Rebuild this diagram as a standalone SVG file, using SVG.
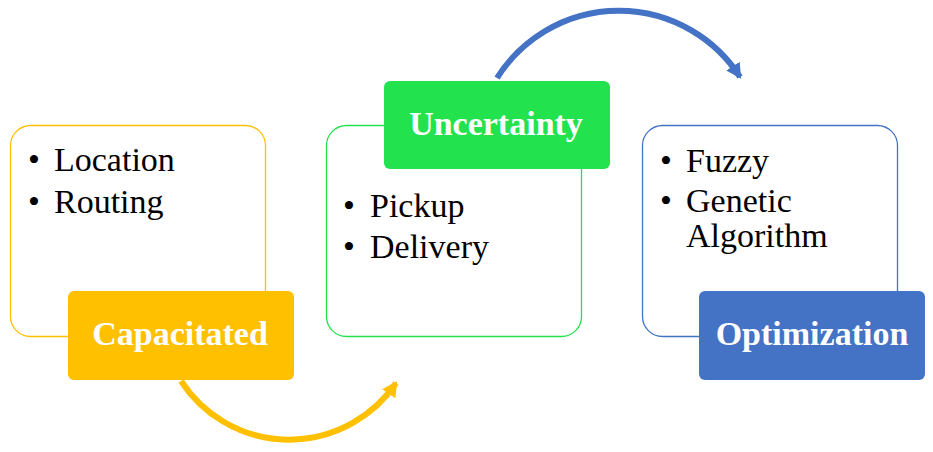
<svg xmlns="http://www.w3.org/2000/svg" width="933" height="452" viewBox="0 0 933 452">
<style>
.outline{fill:#fff;stroke-width:1.3}
.item{font-family:"Liberation Serif","Times New Roman",serif;font-size:34px;fill:#000}
.lbl{font-family:"Liberation Serif","Times New Roman",serif;font-size:34px;font-weight:bold;fill:#fff;text-anchor:middle}
.arc{fill:none;stroke-width:6}
</style>
<defs>
<marker id="ay" markerUnits="userSpaceOnUse" markerWidth="18" markerHeight="18" refX="13" refY="8" orient="auto"><path d="M0,0 L15,8 L0,16 z" fill="#FFC000"/></marker>
<marker id="ab" markerUnits="userSpaceOnUse" markerWidth="18" markerHeight="18" refX="13" refY="8" orient="auto"><path d="M0,0 L15,8 L0,16 z" fill="#4472C4"/></marker>
</defs>
<rect width="933" height="452" fill="#fff"/>
<g id="connectors">
<path class="arc" stroke="#FFC000" d="M181 381 A129 129 0 0 0 396 383" marker-end="url(#ay)"/>
<path class="arc" stroke="#4472C4" stroke-width="5" d="M497 78 A144 144 0 0 1 740 77" marker-end="url(#ab)"/>
</g>
<g id="node-capacitated">
<rect class="outline" x="10.5" y="125.5" width="255" height="211" rx="20" stroke="#FFC000"/>
<text class="item" x="28" y="171">•</text><text class="item" x="54" y="171">Location</text>
<text class="item" x="28" y="213">•</text><text class="item" x="54" y="213">Routing</text>
<rect x="68" y="291" width="226" height="89" rx="6" fill="#FFC000"/>
<text class="lbl" x="180" y="345">Capacitated</text>
</g>
<g id="node-uncertainty">
<rect class="outline" x="326.5" y="125.5" width="255" height="211" rx="20" stroke="#22E34E"/>
<rect x="384" y="81" width="226" height="88" rx="6" fill="#22E34E"/>
<text class="lbl" x="496" y="135">Uncertainty</text>
<text class="item" x="343" y="217">•</text><text class="item" x="370" y="217">Pickup</text>
<text class="item" x="343" y="258">•</text><text class="item" x="370" y="258">Delivery</text>
</g>
<g id="node-optimization">
<rect class="outline" x="642.5" y="125.5" width="255" height="211" rx="20" stroke="#4472C4"/>
<text class="item" x="660" y="172">•</text><text class="item" x="686" y="172">Fuzzy</text>
<text class="item" x="660" y="212">•</text><text class="item" x="686" y="212">Genetic</text>
<text class="item" x="686" y="247">Algorithm</text>
<rect x="699" y="291" width="226" height="89" rx="6" fill="#4472C4"/>
<text class="lbl" x="812" y="345">Optimization</text>
</g>
</svg>
